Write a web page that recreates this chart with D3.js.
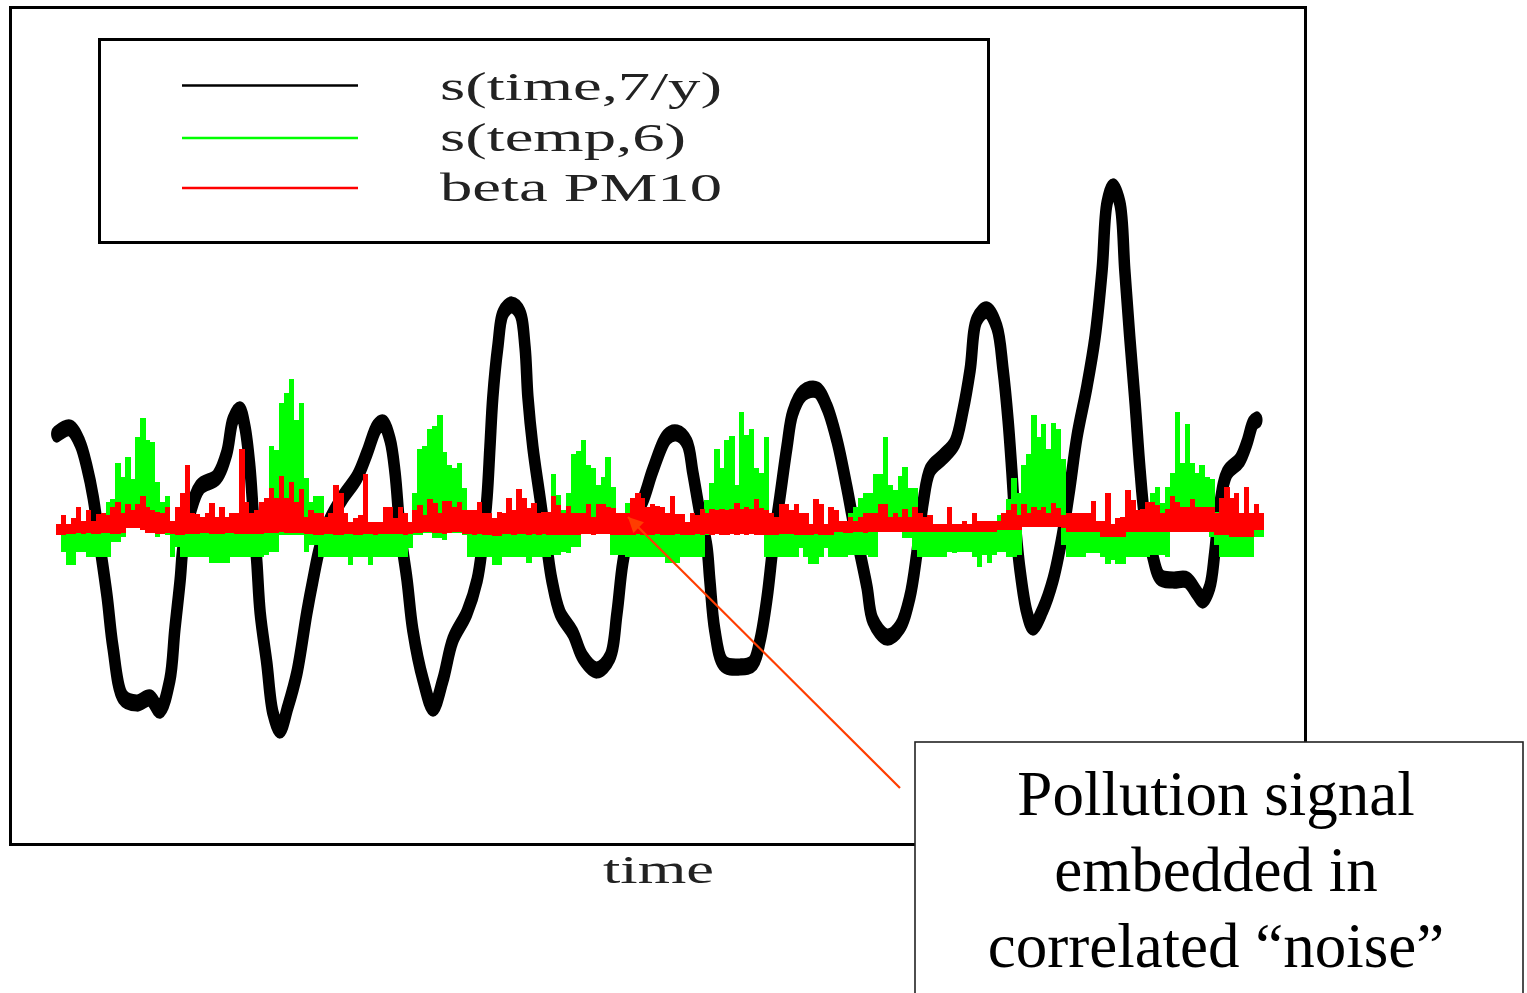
<!DOCTYPE html>
<html>
<head>
<meta charset="utf-8">
<script src="https://cdn.jsdelivr.net/npm/d3@7"></script>
<style>
  html, body { margin:0; padding:0; background:#fff; }
  svg { display:block; }
</style>
</head>
<body>
<div id="chart-area"></div>
<script>
// ---- data ----
// smooth of time, 7 df/year : day, percent
var timeDays = [2,34,58,75,90,107,124,138,162,196,228,252,276,288,301,308,325,349,390,414,429,446,458,470,478,487,495,511,526,543,562,584,608,623,640,664,696,730,754,778,793,810,822,834,851,865,890,914,938,962,996,1021,1033,1045,1052,1059,1071,1084,1105,1125,1137,1144,1156,1173,1190,1202,1222,1253,1277,1311,1343,1360,1374,1396,1423,1447,1481,1505,1530,1544,1561,1578,1585,1597,1617,1658,1690,1707,1724,1738,1755,1772,1786,1811,1845,1869,1893,1917,1932,1949,1966,1980,2014,2046,2070,2087,2102,2119,2150,2179,2199,2216,2232,2257,2281,2296,2308,2317,2325,2337,2354,2368,2392,2417,2439,2458,2475,2499,2519,2536,2548,2562,2579,2591,2603,2616,2628,2640,2657,2676,2708,2742,2766,2780,2797,2809,2822,2839,2870,2887,2902,2911];
var timeSmooth = [9.1,9.7,8.2,5.8,2.8,-2.2,-7.2,-12.2,-17.2,-17.8,-17.3,-18.5,-15.5,-10.5,-5.5,-2.2,1.2,3.8,4.8,7.2,10.5,11.5,9.8,5.8,1.2,-3.8,-8.8,-13.8,-18.8,-20.5,-18.2,-14.8,-8.8,-5.5,-2.2,0.5,2.8,4.8,7.2,9.8,10.2,8.5,5.2,-0.5,-5.5,-10.5,-15.5,-18.3,-15.5,-11.5,-8.8,-5.5,-2.2,2.8,7.8,12.8,17.8,21.2,22.0,21.2,17.8,12.8,7.8,2.8,-2.2,-5.5,-8.8,-10.8,-13.2,-14.5,-13.2,-8.8,-3.8,0.5,2.5,5.5,8.8,9.2,8.2,5.2,1.2,-2.2,-5.5,-10.5,-13.8,-14.2,-13.8,-11.5,-7.2,-2.2,2.8,7.8,11.2,13.2,13.5,11.8,8.5,3.8,0.5,-2.8,-6.2,-9.5,-11.2,-10.2,-7.2,-2.8,2.2,5.5,6.8,8.2,11.5,15.5,20.5,21.5,19.8,15.5,10.5,5.5,0.5,-4.5,-8.8,-10.2,-8.5,-5.5,-1.2,3.8,8.8,13.8,18.8,25.5,32.2,33.8,32.2,25.5,18.8,12.2,5.5,0.5,-2.8,-5.2,-5.5,-5.5,-6.8,-7.5,-6.2,-2.8,2.2,5.2,6.5,8.2,10.2,10.5];

// daily series summarised in 12-day columns (top / bottom of each column)
var STEP = 12;
var tempHi = [0,0,0,0,0,0,0,0,0,0,
  2.3,2.6,6.2,4.8,6.8,4.6,8.8,10.7,8.5,8.3,4.3,2.3,2.9,
  0,0,0,0,0,0,0,0,0,0,0,0,0,0,0,0,0,0,0,0,
  7.9,7.5,12.2,13.2,14.6,10.5,12.2,4.7,2.3,2.9,2.9,
  0,0,0,0,0,0,0,0,0,0,0,0,0,0,0,0,0,0,
  3.2,7.6,7.9,9.6,9.9,11.0,7.3,6.0,5.7,6.2,3.7,
  0,0,0,0,0,0,0,0,0,0,0,0,0,0,0,0,0,
  5.1,3.0,1.5,3.2,7.1,7.4,8.5,6.0,5.7,4.0,4.8,6.8,3.8,
  0,0,2.2,
  0,0,0,0,0,0,0,0,0,0,0,0,0,0,0,
  2.5,4.2,7.6,5.7,8.5,8.9,4.0,11.3,9.0,9.6,5.7,5.2,8.8,
  0,0,0,0,0,0,0,0,0,0,0,0,0,0,0,0,
  1.2,1.8,2.7,3.2,3.2,5.1,5.1,8.8,4.0,3.5,4.9,5.8,3.7,3.7,
  0,0,0,0,0,0,0,0,0,0,0,0,0,0,0,0,
  1.0,1.0,2.6,4.7,3.2,6.0,7.1,11.0,8.8,10.1,7.6,10.2,9.6,6.6,
  0,0,0,0,0,0,0,0,0,0,0,0,0,0,0,0,0,
  3.2,3.8,2.2,3.8,5.2,11.3,6.2,10.1,6.2,5.2,6.0,4.8,4.6,1.3,
  0,0,0,0,0,0,0,0,0];
var tempLo = [-1.0,-2.7,-4.0,-4.0,-2.7,-2.7,-3.2,-3.2,-3.2,-3.2,
  -3.2,-1.7,-1.7,-1.2,-0.2,-0.2,-0.2,-0.2,-0.2,-0.2,-1.2,-0.2,-1.0,
  -3.2,-2.2,-3.2,-3.2,-3.2,-3.2,-3.2,-3.2,-3.8,-3.8,-3.8,-3.8,-3.2,-3.2,-3.2,-3.2,-3.2,-3.2,-3.2,-3.0,
  -2.7,-2.7,-1.0,-1.0,-1.0,-1.0,-1.0,-2.7,-2.0,-2.0,-3.2,
  -3.2,-3.2,-3.2,-3.2,-3.2,-4.0,-3.2,-3.2,-3.2,-4.0,-3.2,-3.2,-3.2,-3.2,-3.2,-3.2,-3.2,-2.3,
  -1.0,-1.0,-0.8,-0.8,-1.3,-1.3,-1.5,-0.8,-0.8,-0.8,-1.0,
  -3.2,-3.2,-3.2,-3.2,-3.2,-4.0,-4.0,-3.2,-3.2,-3.2,-3.2,-3.2,-3.8,-3.2,-3.2,-3.2,-3.2,
  -3.0,-3.0,-2.7,-2.8,-2.2,-2.2,-0.8,-0.5,-0.5,-0.5,-0.5,-0.5,-3.0,
  -3.0,-3.0,-3.2,
  -3.2,-3.2,-3.2,-3.2,-3.2,-3.2,-3.2,-3.8,-3.8,-3.8,-3.2,-3.2,-3.2,-3.2,-3.2,
  -1.0,-0.8,-0.8,-0.8,-0.8,-0.8,-0.8,-0.8,-0.8,-0.8,-0.8,-0.8,-3.2,
  -3.2,-3.2,-3.2,-3.2,-3.2,-3.2,-2.3,-3.2,-3.9,-3.9,-3.2,-2.3,-3.2,-3.2,-3.2,-3.2,
  -3.0,-3.0,-3.0,-3.0,-3.2,-3.2,-0.5,-0.5,-0.5,-0.5,-0.5,-1.3,-1.3,-2.5,
  -3.2,-3.2,-3.2,-3.2,-3.2,-3.2,-2.7,-2.8,-2.7,-2.7,-2.7,-3.2,-4.2,-3.0,-3.8,-3.0,
  -2.7,-2.7,-3.2,-3.2,-3.0,-0.2,-0.2,-0.2,-0.2,-0.2,-0.2,-0.2,-0.2,-2.0,
  -3.2,-3.2,-3.2,-3.2,-2.8,-2.8,-2.8,-3.2,-3.9,-3.5,-3.9,-3.9,-3.2,-3.2,-3.2,-3.2,-3.2,
  -3.0,-3.0,-3.0,-3.2,-0.5,-0.5,-0.5,-0.5,-0.5,-0.5,-0.5,-0.5,-1.2,-2.0,
  -3.2,-3.2,-3.2,-3.2,-3.2,-3.2,-3.2,-1.2,-1.2];
var pmHi = [0.1,1.0,0.1,0.7,1.8,0.4,1.5,0.4,1.1,1.2, 1.0,1.8,2.3,1.2,2.1,1.5,2.1,2.9,1.8,1.5,
  1.3,1.2,1.8,0.4,1.8,3.2,6.0,1.2,1.1,0.8, 1.2,2.2,0.8,1.8,0.8,1.2,1.2,7.6,2.3,1.2,
  1.5,2.3,2.7,3.7,2.7,4.9,2.7,4.3,2.3,
  3.6,0.8,1.5,1.2,1.2,0.8,1.2,4.0,3.2,1.2, 0.3,0.7,1.0,5.1,0.3,0.3,0.3,1.8,1.8,0.7,
  1.8,1.2,0.3,1.5,2.0,1.0,2.6,2.2,1.2,2.4, 2.4,1.8,2.3,1.5,1.5,1.5,2.3,1.2,1.2,0.7,
  1.3,1.2,2.7,1.5,3.6,2.7,1.7,2.2,1.2,1.3,
  1.3,2.9,2.0,1.2,1.9,1.2,1.2,1.2,2.1,0.8, 2.1,2.1,1.8,1.7,1.2,1.2,1.2,2.7,3.2,2.7,
  1.8,2.1,1.9,1.8,1.2,2.9,1.1,1.1,0.3,1.2, 1.0,1.6,1.2,1.6,1.5,1.6,1.5,1.6,2.2,1.6,
  1.8,1.6,2.6,1.7,1.5,1.2,0.8,2.1,2.1,1.5, 2.1,
  1.2,1.2,0.1,2.6,2.1,0.1,1.8,1.5,0.4,0.4, 0.8,0.4,0.8,1.2,1.2,1.2,2.1,2.1,0.8,1.2,
  0.8,1.6,0.8,1.8,1.2,0.8,1.0,0.1,0.1,0.1, 1.8,0.1,0.1,0.4,0.1,1.2,0.4,0.4,0.4,0.4,
  0.4,1.2,1.5,2.1,1.0,2.1,1.2,1.8,1.5,1.8, 1.2,
  2.2,1.7,1.0,1.2,1.2,1.2,1.2,1.2,2.4,0.4, 0.4,3.2,0.1,0.7,0.8,3.5,2.5,1.5,1.6,2.3,
  2.3,2.0,1.2,1.6,2.9,2.3,1.8,1.8,2.6,1.8, 1.8,1.8,1.8,1.2,2.7,3.8,2.7,3.2,1.2,3.8,
  1.2,2.1,1.2];
var pmLo = [-1.0,-1.0,-0.9,-0.9,-0.8,-0.9,-0.8,-0.9,-0.9,-0.8, -0.8,-0.9,-0.9,-0.8,-0.3,-0.3,-0.3,-0.5,-0.8,-0.8,
  -0.9,-0.9,-0.8,-0.9,-1.0,-1.0,-0.9,-0.9,-0.9,-0.8, -0.8,-0.9,-0.9,-0.9,-0.8,-0.8,-0.9,-0.9,-0.9,-0.9,
  -0.9,-0.9,-0.8,-0.8,-0.8,-0.7,-0.8,-0.8,-0.8,
  -0.8,-0.9,-0.9,-1.0,-1.0,-0.9,-0.9,-1.0,-1.0,-0.9, -0.9,-1.0,-1.0,-0.9,-0.9,-1.0,-0.9,-0.9,-0.9,-0.9,
  -0.9,-1.0,-0.9,-0.8,-0.8,-0.7,-0.7,-0.8,-0.8,-0.9, -0.8,-0.7,-0.7,-0.9,-0.9,-1.0,-0.9,-1.0,-1.0,-1.1,
  -1.1,-0.9,-0.9,-1.0,-0.9,-0.9,-1.0,-0.9,-1.0,-0.9,
  -1.0,-1.0,-1.0,-1.0,-1.0,-1.0,-1.0,-0.9,-0.9,-1.0, -0.9,-0.9,-0.9,-1.0,-1.0,-1.0,-1.0,-1.0,-0.9,-1.0,
  -1.0,-1.0,-0.9,-1.0,-1.0,-1.0,-0.9,-1.0,-1.0,-1.0, -0.9,-1.0,-0.9,-1.0,-0.9,-1.0,-1.0,-0.9,-1.0,-0.9,
  -1.0,-0.9,-1.0,-1.0,-1.0,-1.0,-1.0,-0.9,-0.9,-0.9, -1.0,
  -1.0,-1.0,-1.0,-0.9,-1.0,-1.0,-1.0,-0.7,-0.7,-0.8, -0.8,-0.7,-0.7,-0.8,-0.7,-0.7,-0.7,-0.7,-0.7,-0.7,
  -0.7,-0.7,-0.7,-0.7,-0.7,-0.7,-0.7,-0.7,-0.7,-0.7, -0.7,-0.7,-0.7,-0.7,-0.7,-0.7,-0.7,-0.7,-0.7,-0.7,
  -0.5,-0.5,-0.5,-0.5,-0.5,-0.2,-0.2,-0.2,-0.2,-0.2, -0.2,
  -0.2,-0.2,-0.3,-0.7,-0.7,-0.7,-0.7,-0.7,-0.7,-0.7, -1.2,-1.2,-1.2,-1.2,-1.2,-0.7,-0.7,-0.7,-0.7,-0.7,
  -0.7,-0.7,-0.7,-0.7,-0.7,-0.7,-0.7,-0.7,-0.7,-0.7, -0.7,-0.7,-0.7,-1.0,-1.0,-1.0,-1.2,-1.2,-1.2,-1.2,
  -1.2,-0.5,-0.5];

var seriesNames = ["s(time,7/y)", "s(temp,6)", "beta PM10"];
var seriesColors = ["#000000", "#00ff00", "#ff0000"];
var xLabelText = "time";
var noteLines = ["Pollution signal", "embedded in", "correlated \u201cnoise\u201d"];

// ---- layout ----
var W = 1527, H = 993;
var frame = { left:10, top:8, right:1306, bottom:845 };
var serif = "'Liberation Serif', 'Times New Roman', serif";

var svg = d3.select("#chart-area")
  .append("svg")
    .attr("width", W)
    .attr("height", H);

svg.append("rect").attr("width", W).attr("height", H).attr("fill", "#fff");

var x = d3.scaleLinear()
  .domain([0, STEP * tempHi.length])
  .range([56, 1263.8]);

var y = d3.scaleLinear()
  .domain([-32, 51.7])
  .range([frame.bottom, frame.top]);

// the thick pen is squashed in x, so draw the smooth in a stretched group
var k = 1.5;
var yPen = d3.scaleLinear()
  .domain(y.domain())
  .range([frame.bottom / k, frame.top / k]);

var timeData = timeDays.map(function(d, i){ return { day: d, v: timeSmooth[i] }; });

var line = d3.line()
  .x(function(d){ return x(d.day); })
  .y(function(d){ return yPen(d.v); })
  .curve(d3.curveCatmullRom.alpha(0.5));

svg.append("g")
  .attr("transform", "scale(1," + k + ")")
  .append("path")
    .datum(timeData)
    .attr("d", line)
    .attr("fill", "none")
    .attr("stroke", seriesColors[0])
    .attr("stroke-width", 11.5)
    .attr("stroke-linejoin", "round")
    .attr("stroke-linecap", "round");

// column helper
function cols(hi, lo){
  return hi.map(function(h, i){ return { day: i * STEP, hi: h, lo: lo[i] }; });
}
var colW = x(STEP) - x(0);

function drawCols(data, color, cls){
  svg.append("g").attr("class", cls)
    .selectAll("rect")
    .data(data)
    .join("rect")
      .attr("x", function(d){ return x(d.day); })
      .attr("width", colW + 0.4)
      .attr("y", function(d){ return y(Math.max(d.hi, d.lo)); })
      .attr("height", function(d){ return Math.abs(y(d.lo) - y(d.hi)); })
      .attr("fill", color)
      .attr("shape-rendering", "crispEdges");
}
drawCols(cols(tempHi, tempLo), seriesColors[1], "temp");
drawCols(cols(pmHi, pmLo), seriesColors[2], "pm10");

// frame
svg.append("rect")
  .attr("x", frame.left + 0.5)
  .attr("y", frame.top - 0.5)
  .attr("width", frame.right - frame.left - 1)
  .attr("height", frame.bottom - frame.top)
  .attr("fill", "none")
  .attr("stroke", "#000")
  .attr("stroke-width", 3);

// legend
var legend = svg.append("g").attr("class", "legend");
legend.append("rect")
  .attr("x", 99.5).attr("y", 39.5)
  .attr("width", 889).attr("height", 203)
  .attr("fill", "#fff")
  .attr("stroke", "#000")
  .attr("stroke-width", 3);

var legendY = [85.5, 138, 188];
var legendText = [282, 246, 282];
seriesNames.forEach(function(name, i){
  legend.append("line")
    .attr("x1", 182).attr("x2", 358)
    .attr("y1", legendY[i]).attr("y2", legendY[i])
    .attr("stroke", seriesColors[i])
    .attr("stroke-width", 2.6);
  legend.append("text")
    .attr("x", 440)
    .attr("y", legendY[i] + [14, 13, 13][i])
    .attr("font-family", serif)
    .attr("font-size", 40)
    .attr("fill", "#222")
    .attr("textLength", legendText[i])
    .attr("lengthAdjust", "spacingAndGlyphs")
    .text(name);
});

// x label
svg.append("text")
  .attr("x", 603)
  .attr("y", 883)
  .attr("font-family", serif)
  .attr("font-size", 40)
  .attr("fill", "#222")
  .attr("textLength", 111)
  .attr("lengthAdjust", "spacingAndGlyphs")
  .text(xLabelText);

// arrow to the PM10 series
svg.append("defs").append("marker")
  .attr("id", "head")
  .attr("viewBox", "0 0 10 10")
  .attr("refX", 10).attr("refY", 5)
  .attr("markerWidth", 22).attr("markerHeight", 15)
  .attr("markerUnits", "userSpaceOnUse")
  .attr("orient", "auto")
  .append("path")
    .attr("d", "M0,0 L10,5 L0,10 Z")
    .attr("fill", "#ff3d00");

svg.append("line")
  .attr("x1", 900).attr("y1", 788)
  .attr("x2", 628).attr("y2", 517)
  .attr("stroke", "#ff3d00")
  .attr("stroke-width", 2.2)
  .attr("marker-end", "url(#head)");

// note box
svg.append("rect")
  .attr("x", 915).attr("y", 742)
  .attr("width", 608).attr("height", 270)
  .attr("fill", "#fff")
  .attr("stroke", "#222")
  .attr("stroke-width", 1.6);

svg.append("g")
  .selectAll("text")
  .data(noteLines)
  .join("text")
    .attr("x", 1216)
    .attr("y", function(d, i){ return 815 + i * 76; })
    .attr("text-anchor", "middle")
    .attr("font-family", serif)
    .attr("font-size", 63)
    .attr("fill", "#000")
    .text(function(d){ return d; });
</script>
</body>
</html>
